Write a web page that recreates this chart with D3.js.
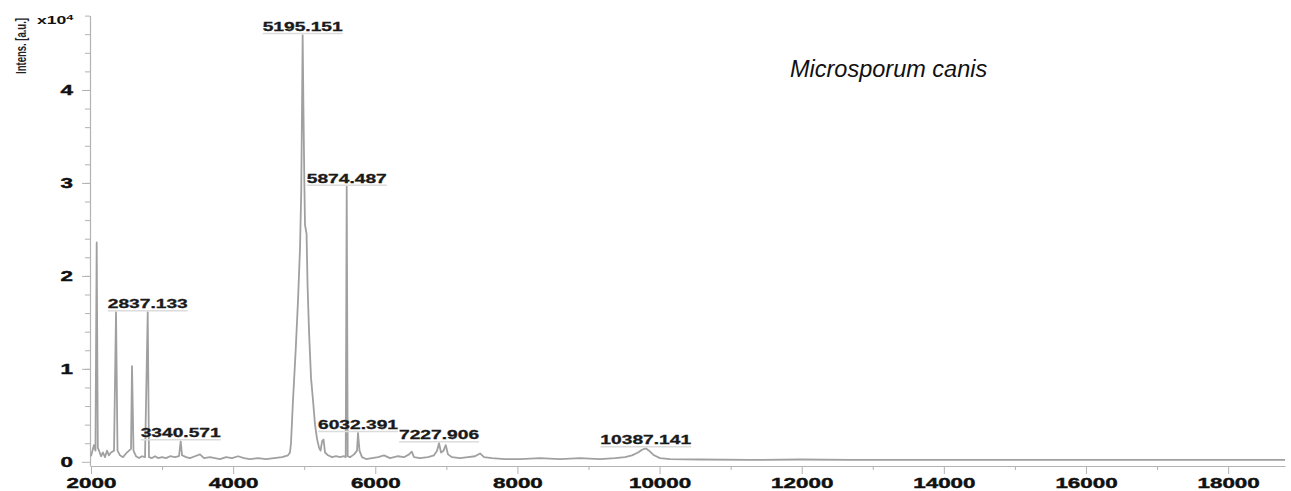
<!DOCTYPE html>
<html>
<head>
<meta charset="utf-8">
<script src="https://cdn.jsdelivr.net/npm/d3@7"></script>
<style>
  body { margin: 0; background: #fff; }
  svg { display: block; font-family: "Liberation Sans", Arial, sans-serif; }
</style>
</head>
<body>
<div id="chart"></div>
<script>
// spectrum, m/z vs intensity (x10^4 a.u.)
const mz = [
  2000, 2014, 2042, 2063, 2080, 2096, 2113, 2141, 2169, 2197, 2225, 2253, 2281, 2324, 2352, 2373,
  2408, 2450, 2493, 2535, 2563, 2577, 2598, 2633, 2675, 2718, 2760, 2798, 2816, 2858, 2901, 2943,
  2999, 3055, 3112, 3182, 3238, 3262, 3281, 3337, 3393, 3463, 3534, 3590, 3675, 3745, 3815, 3900,
  3984, 4069, 4153, 4237, 4350, 4463, 4575, 4688, 4772, 4800, 4814, 4842, 4880, 4913, 4941, 4958,
  4969, 4978, 4989, 5002, 5011, 5033, 5047, 5068, 5096, 5124, 5152, 5180, 5209, 5230, 5251, 5272,
  5293, 5335, 5391, 5448, 5504, 5560, 5584, 5598, 5612, 5645, 5701, 5743, 5757, 5778, 5813, 5870,
  5954, 6039, 6123, 6208, 6320, 6404, 6475, 6513, 6545, 6629, 6742, 6826, 6869, 6897, 6925, 6960,
  6991, 7023, 7080, 7192, 7305, 7404, 7474, 7530, 7642, 7825, 8036, 8318, 8599, 8881, 9162, 9373,
  9514, 9612, 9697, 9753, 9805, 9852, 9922, 10006, 10147, 10569, 11273, 11976, 12680, 13384, 14087, 14791,
  15494, 16198, 16902, 17605, 18309, 18801
];
const intensity = [
  0.06, 0.10, 0.18, 0.12, 2.36, 0.15, 0.12, 0.06, 0.10, 0.05, 0.12, 0.07, 0.10, 0.12, 1.61, 0.12,
  0.07, 0.05, 0.09, 0.12, 0.14, 1.03, 0.12, 0.06, 0.04, 0.06, 0.05, 1.61, 0.05, 0.04, 0.06, 0.04,
  0.05, 0.04, 0.06, 0.05, 0.06, 0.22, 0.07, 0.05, 0.04, 0.06, 0.08, 0.04, 0.05, 0.04, 0.03, 0.05,
  0.04, 0.06, 0.04, 0.03, 0.04, 0.03, 0.04, 0.05, 0.07, 0.10, 0.20, 0.66, 1.20, 1.74, 2.30, 2.90,
  3.80, 4.59, 3.80, 3.00, 2.55, 2.45, 1.90, 1.40, 0.90, 0.66, 0.40, 0.25, 0.15, 0.12, 0.22, 0.24,
  0.10, 0.07, 0.05, 0.06, 0.05, 0.06, 0.05, 2.96, 0.06, 0.05, 0.08, 0.12, 0.31, 0.12, 0.05, 0.03,
  0.04, 0.05, 0.07, 0.04, 0.06, 0.05, 0.08, 0.11, 0.05, 0.04, 0.05, 0.07, 0.12, 0.20, 0.10, 0.12,
  0.18, 0.08, 0.05, 0.04, 0.05, 0.06, 0.09, 0.05, 0.04, 0.03, 0.03, 0.04, 0.03, 0.04, 0.03, 0.04,
  0.05, 0.07, 0.10, 0.13, 0.145, 0.12, 0.07, 0.04, 0.03, 0.025, 0.02, 0.025, 0.02, 0.02, 0.02, 0.02,
  0.02, 0.02, 0.02, 0.02, 0.02, 0.02
];

// annotated peaks
const peakLabels = ["5195.151", "5874.487", "2837.133", "3340.571", "6032.391", "7227.906", "10387.141"];
const peakMz = [4978, 5598, 2798, 3262, 5757, 6897, 9805];
const peakTop = [4.59, 2.96, 1.61, 0.22, 0.31, 0.20, 0.145];

const xTicks = [2000, 4000, 6000, 8000, 10000, 12000, 14000, 16000, 18000];
const yTicks = [0, 1, 2, 3, 4];
const title = "Microsporum canis";

const width = 1291, height = 491;
const stretch = 1.6;

const svg = d3.select("#chart").append("svg")
  .attr("width", width)
  .attr("height", height);

const x = d3.scaleLinear().domain([2000, 18800]).range([91, 1285]);
const y = d3.scaleLinear().domain([-0.045, 4.8]).range([466, 15.6]);

const axisColor = "#b3b3b3";

// minor ticks first
svg.append("g")
  .attr("transform", `translate(0,${y.range()[0]})`)
  .call(d3.axisBottom(x).tickValues(d3.range(3000, 18001, 2000)).tickSize(4).tickFormat(""))
  .call(g => g.select(".domain").remove())
  .call(g => g.selectAll("line").attr("stroke", axisColor));

svg.append("g")
  .attr("transform", `translate(${x.range()[0] - 1},0)`)
  .call(d3.axisLeft(y).tickValues(d3.range(0.2, 4.81, 0.2)).tickSize(5).tickFormat(""))
  .call(g => g.select(".domain").remove())
  .call(g => g.selectAll("line").attr("stroke", axisColor));

const xAxis = svg.append("g")
  .attr("transform", `translate(0,${y.range()[0]})`)
  .call(d3.axisBottom(x).tickValues(xTicks).tickSize(8).tickSizeOuter(0).tickFormat(d3.format("d")));

xAxis.select(".domain").attr("stroke", axisColor).attr("stroke-width", 1.2);
xAxis.selectAll("line").attr("stroke", axisColor);
xAxis.selectAll("text")
  .attr("y", 22).attr("dy", 0)
  .attr("transform", `scale(${stretch},1)`)
  .attr("fill", "#111").attr("stroke", "#111").attr("stroke-width", 0.4)
  .style("font-size", "14px").style("font-weight", "bold");

const yAxis = svg.append("g")
  .attr("transform", `translate(${x.range()[0] - 1},0)`)
  .call(d3.axisLeft(y).tickValues(yTicks).tickSize(8).tickSizeOuter(0).tickFormat(d3.format("d")));

yAxis.select(".domain").attr("stroke", axisColor).attr("stroke-width", 1.2);
yAxis.selectAll("line").attr("stroke", axisColor);
yAxis.selectAll("text")
  .attr("x", -17 / stretch)
  .attr("transform", `scale(${stretch},1)`)
  .attr("fill", "#111").attr("stroke", "#111").attr("stroke-width", 0.4)
  .style("font-size", "14px").style("font-weight", "bold");

// axis unit + title
const unit = svg.append("g").attr("transform", `translate(37,24) scale(${stretch},1)`);
const unitText = unit.append("text")
  .attr("fill", "#111")
  .style("font-size", "11px").style("font-weight", "bold");
unitText.append("tspan").text("x10");
unitText.append("tspan").attr("dy", -4).style("font-size", "8px").text("4");

svg.append("g")
  .attr("transform", `translate(26,46) scale(${stretch},1) rotate(-90)`)
  .append("text")
  .attr("text-anchor", "middle")
  .attr("fill", "#222")
  .style("font-size", "9.5px").style("font-weight", "bold")
  .text("Intens. [a.u.]");

svg.append("text")
  .attr("x", 790).attr("y", 77)
  .attr("fill", "#111")
  .style("font-size", "23.5px").style("font-style", "italic")
  .text(title);

// spectrum
const spectrum = mz.map((m, i) => [m, intensity[i]]);
const line = d3.line().x(d => x(d[0])).y(d => y(d[1]));

svg.append("path")
  .datum(spectrum)
  .attr("fill", "none")
  .attr("stroke", "#a0a0a0")
  .attr("stroke-width", 1.8)
  .attr("stroke-linejoin", "round")
  .attr("d", line);

// peak labels
const labels = svg.append("g").selectAll("g")
  .data(peakLabels.map((t, i) => ({ text: t, m: peakMz[i], top: peakTop[i] })))
  .join("g")
  .attr("transform", d => `translate(${x(d.m)},${y(d.top) - 4})`);

labels.append("text")
  .attr("text-anchor", "middle")
  .attr("transform", `scale(${stretch},1)`)
  .attr("fill", "#1a1a1a").attr("stroke", "#1a1a1a").attr("stroke-width", 0.3)
  .style("font-size", "12px").style("font-weight", "bold")
  .text(d => d.text);

labels.each(function(d) {
  const w = d3.select(this).select("text").node().getComputedTextLength() * stretch;
  d3.select(this).insert("line", "text")
    .attr("x1", -w / 2).attr("x2", w / 2)
    .attr("y1", 2.5).attr("y2", 2.5)
    .attr("stroke", "#dcdcdc")
    .attr("stroke-width", 1.5);
});
</script>
</body>
</html>
